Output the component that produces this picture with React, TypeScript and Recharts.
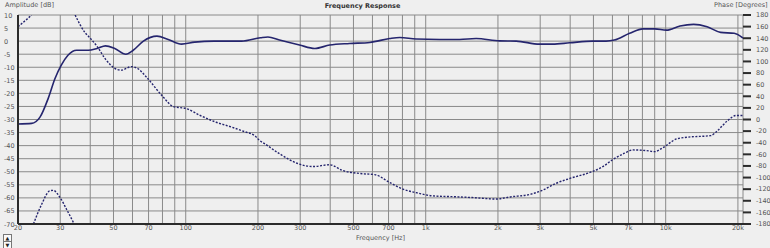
import { LineChart, Line, XAxis, YAxis, CartesianGrid } from "recharts";

// amplitude [dB] vs frequency [Hz]
const ampFreq = [
  20, 22.8, 24.7, 26.7, 28.5, 30.3, 32.3, 35.1, 39.2, 42.7, 46.3, 50.6, 56.3,
  60.4, 66.6, 75.9, 84.5, 96.1, 109, 131, 171, 205, 220, 246, 298, 345, 398,
  482, 585, 708, 780, 912, 1141, 1384, 1622, 2034, 2384, 2979, 3380, 3980,
  4960, 5640, 6110, 7080, 8040, 9000, 10080, 11480, 13070, 14880, 16940,
  19290, 21000,
];
const ampDb = [
  -31.7, -31.5, -29.1, -22.0, -14.4, -9.2, -5.4, -3.5, -3.5, -2.8, -1.8, -2.8,
  -5.0, -3.5, 0, 1.9, 0.65, -1.15, -0.4, 0, 0, 1.3, 1.6, 0.4, -1.5, -2.8, -1.5,
  -0.9, -0.5, 1.0, 1.4, 0.8, 0.65, 0.65, 1.0, 0.1, 0, -1.15, -1.15, -0.65, 0,
  0, 0.4, 3.0, 4.7, 4.7, 4.2, 5.8, 6.4, 5.5, 3.35, 3.0, 1.2,
];

// phase [deg], wrapped at +-180, so it comes in three pieces
const phaseFreqA = [20, 21.4, 22.8];
const phaseDegA = [160, 170, 180];
const phaseFreqB = [23.2, 25.1, 27.1, 28.0, 29.9, 31.9, 34.3];
const phaseDegB = [-180, -146, -123, -122, -134, -155, -180];
const phaseFreqC = [
  34.6, 38.0, 40, 42.7, 46.3, 48.6, 50.6, 53.9, 59.3, 63.5, 68.6, 80.6, 88.5,
  101, 115, 134, 155, 176, 194, 203, 212, 246, 298, 339, 398, 452, 531, 614,
  708, 805, 912, 1071, 1310, 1573, 1972, 2232, 2746, 3021, 3489, 3980, 4960,
  5465, 6020, 6740, 7310, 8320, 9000, 9780, 11120, 12250, 15410, 16460, 18140,
  19670, 21000,
];
const phaseDegC = [
  180, 150, 140, 126, 104, 94, 88, 85, 91, 87, 73, 38.6, 22.5, 18.5, 6.9, -4.7,
  -13, -21, -28, -36, -41, -59, -77, -81, -78, -88, -93, -95, -108.5, -120,
  -126, -131.5, -133, -134.5, -137, -133.5, -128.6, -123, -110, -101.6, -89.5,
  -81.3, -69, -58, -52.4, -53.6, -55.4, -48, -33.4, -30.6, -27.7, -19, -1.7,
  6.9, 7,
];

const gridFreqs = [
  20, 30, 40, 50, 60, 70, 80, 90, 100, 200, 300, 400, 500, 600, 700, 800, 900,
  1000, 2000, 3000, 4000, 5000, 6000, 7000, 8000, 9000, 10000, 20000,
];
const freqLabels: Record<number, string> = {
  20: "20", 30: "30", 50: "50", 70: "70", 100: "100", 200: "200", 300: "300",
  500: "500", 700: "700", 1000: "1k", 2000: "2k", 3000: "3k", 5000: "5k",
  7000: "7k", 10000: "10k", 20000: "20k",
};
const ampTicks = [
  10, 5, 0, -5, -10, -15, -20, -25, -30, -35, -40, -45, -50, -55, -60, -65, -70,
];
const phaseTicks = [
  180, 160, 140, 120, 100, 80, 60, 40, 20, 0, -20, -40, -60, -80, -100, -120,
  -140, -160, -180,
];

const ampData = ampFreq.map((f, i) => ({ f, v: ampDb[i] }));
const segA = phaseFreqA.map((f, i) => ({ f, v: phaseDegA[i] }));
const segB = phaseFreqB.map((f, i) => ({ f, v: phaseDegB[i] }));
const segC = phaseFreqC.map((f, i) => ({ f, v: phaseDegC[i] }));

const LINE = "#25256e";
const TEXT = "#555555";
const FONT = "'DejaVu Sans', sans-serif";

function FreqTick(props: any) {
  const { x, payload } = props;
  const label = freqLabels[payload.value];
  if (!label) return null;
  return (
    <text x={x} y={230} textAnchor="middle" fontSize={6.5} fill={TEXT} fontFamily={FONT}>
      {label}
    </text>
  );
}

function AmpTick(props: any) {
  const { y, payload } = props;
  return (
    <text x={4} y={y + 2.5} textAnchor="start" fontSize={6.5} fill={TEXT} fontFamily={FONT}>
      {payload.value}
    </text>
  );
}

const smallBtn = {
  position: "absolute" as const,
  left: 3,
  width: 7,
  height: 6,
  border: "1px solid #777",
  background: "#fafafa",
  fontSize: 5,
  lineHeight: "6px",
  textAlign: "center" as const,
  color: "#222",
};

export default function App() {
  return (
    <div
      style={{
        position: "absolute",
        left: 0,
        top: 0,
        width: 770,
        height: 248,
        background: "#efefef",
        fontFamily: FONT,
        color: TEXT,
        overflow: "hidden",
      }}
    >
      <div style={{ position: "absolute", left: 5, top: 1, fontSize: 6.5, color: TEXT }}>
        Amplitude [dB]
      </div>
      <div
        style={{
          position: "absolute",
          left: 0,
          width: 725,
          top: 2,
          textAlign: "center",
          fontSize: 6.5,
          fontWeight: "bold",
          color: "#333",
        }}
      >
        Frequency Response
      </div>
      <div style={{ position: "absolute", left: 714, top: 1, fontSize: 6.5, color: TEXT }}>
        Phase [Degrees]
      </div>
      <div
        style={{
          position: "absolute",
          left: 18,
          width: 725,
          top: 234,
          textAlign: "center",
          fontSize: 6.5,
          color: TEXT,
        }}
      >
        Frequency [Hz]
      </div>
      <div style={{ ...smallBtn, top: 234 }}>▲</div>
      <div style={{ ...smallBtn, top: 241 }}>▼</div>
      <LineChart
        width={770}
        height={248}
        margin={{ top: 15, right: 0, bottom: 0, left: 0 }}
      >
        <CartesianGrid
          yAxisId="amp"
          stroke="#8a8a8a"
          strokeWidth={1}
          fill="#efefef"
        />
        <XAxis
          dataKey="f"
          type="number"
          scale="log"
          domain={[20, 21000]}
          ticks={gridFreqs}
          allowDataOverflow
          height={24}
          interval={0}
          tickLine={false}
          axisLine={{ stroke: "#2b2b2b", strokeWidth: 2 }}
          tick={<FreqTick />}
        />
        <YAxis
          yAxisId="amp"
          type="number"
          domain={[-70, 10]}
          ticks={ampTicks}
          interval={0}
          width={18}
          tickLine={false}
          axisLine={{ stroke: "#2b2b2b", strokeWidth: 2 }}
          tick={<AmpTick />}
          allowDataOverflow
        />
        <YAxis
          yAxisId="phase"
          orientation="right"
          type="number"
          domain={[-180, 180]}
          ticks={phaseTicks}
          interval={0}
          width={27}
          axisLine={false}
          tickLine={{ stroke: "#2b2b2b", strokeWidth: 2 }}
          tickSize={8}
          tickMargin={5}
          tick={{ fontSize: 6.5, fill: TEXT, fontFamily: FONT }}
          allowDataOverflow
        />
        <Line
          yAxisId="amp"
          data={ampData}
          dataKey="v"
          type="monotone"
          stroke={LINE}
          strokeWidth={1.6}
          dot={false}
          isAnimationActive={false}
        />
        <Line
          yAxisId="phase"
          data={segA}
          dataKey="v"
          type="monotone"
          stroke={LINE}
          strokeWidth={1.4}
          strokeDasharray="2 1.5"
          dot={false}
          isAnimationActive={false}
        />
        <Line
          yAxisId="phase"
          data={segB}
          dataKey="v"
          type="monotone"
          stroke={LINE}
          strokeWidth={1.4}
          strokeDasharray="2 1.5"
          dot={false}
          isAnimationActive={false}
        />
        <Line
          yAxisId="phase"
          data={segC}
          dataKey="v"
          type="monotone"
          stroke={LINE}
          strokeWidth={1.4}
          strokeDasharray="2 1.5"
          dot={false}
          isAnimationActive={false}
        />
      </LineChart>
    </div>
  );
}
